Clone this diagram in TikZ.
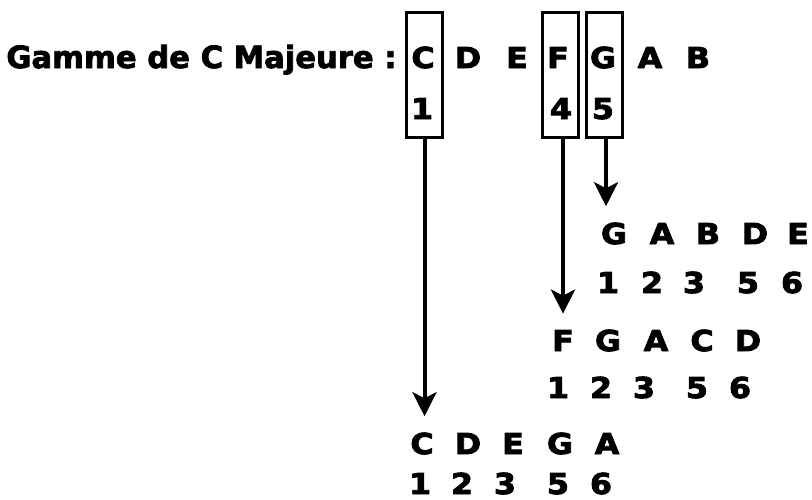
\documentclass[tikz,border=0pt]{standalone}
\usepackage{fontspec}
\setmainfont{DejaVu Sans}[BoldFeatures={FakeBold=2.5}]
\newfontfamily\notefont{DejaVu Sans}[BoldFeatures={FakeBold=3,FakeStretch=1.1}]
\usepackage{tikz}
\usetikzlibrary{arrows.meta}
\tikzset{
    PxGrid/.style={x=0.5pt,y=-0.5pt},
    NoteText/.style={font=\notefont\bfseries\fontsize{14.4}{15}\selectfont,anchor=base,inner sep=0pt},
    TitleText/.style={font=\bfseries\fontsize{15.3}{16}\selectfont,anchor=base east,inner sep=0pt},
    DegreeBox/.style={draw,line width=1.5pt,minimum width=18pt,minimum height=62.5pt,inner sep=0pt},
    DegreeArrow/.style={line width=2pt,-{Stealth[length=12pt,width=12pt,inset=3pt]},shorten >=8pt}
}
\begin{document}
\begin{tikzpicture}[PxGrid]
    \useasboundingbox (0,0) rectangle (812,499);

    \begin{scope}
        \node[TitleText] (title) at (397,68) {Gamme de C Majeure :};
        \foreach \n/\x [count=\i] in {C/423,D/468,E/517,F/558,G/603,A/650,B/698}
            \node[NoteText] (s\i) at (\x,68) {\n};
        \node[NoteText] (d1) at (422,119) {1};
        \node[NoteText] (d4) at (561,119) {4};
        \node[NoteText] (d5) at (603,119) {5};
        \node[DegreeBox] (boxC) at (424.5,74.5) {};
        \node[DegreeBox] (boxF) at (560,74.5) {};
        \node[DegreeBox] (boxG) at (604,74.5) {};
    \end{scope}

    \begin{scope}
        \foreach \n/\x [count=\i] in {G/614,A/662,B/708,D/755,E/798}
            \node[NoteText] (g\i) at (\x,244) {\n};
        \foreach \n/\x [count=\i] in {1/608,2/652,3/694,5/748,6/792}
            \node[NoteText] (gd\i) at (\x,293) {\n};
        \foreach \n/\x [count=\i] in {F/563,G/608,A/656,C/702,D/748}
            \node[NoteText] (f\i) at (\x,351) {\n};
        \foreach \n/\x [count=\i] in {1/558,2/601,3/644,5/697,6/740}
            \node[NoteText] (fd\i) at (\x,398) {\n};
        \foreach \n/\x [count=\i] in {C/422,D/468,E/513,G/560,A/607}
            \node[NoteText] (c\i) at (\x,454) {\n};
        \foreach \n/\x [count=\i] in {1/420,2/462,3/505,5/558,6/601}
            \node[NoteText] (cd\i) at (\x,494) {\n};
    \end{scope}

    \draw[DegreeArrow] (boxC.south) -- (boxC.south |- c1.north);
    \draw[DegreeArrow] ([xshift=1.5pt]boxF.south) -- ([xshift=1.5pt]boxF.south |- f1.north);
    \draw[DegreeArrow] ([xshift=1pt]boxG.south) -- ([xshift=1pt]boxG.south |- g1.north);
\end{tikzpicture}
\end{document}
